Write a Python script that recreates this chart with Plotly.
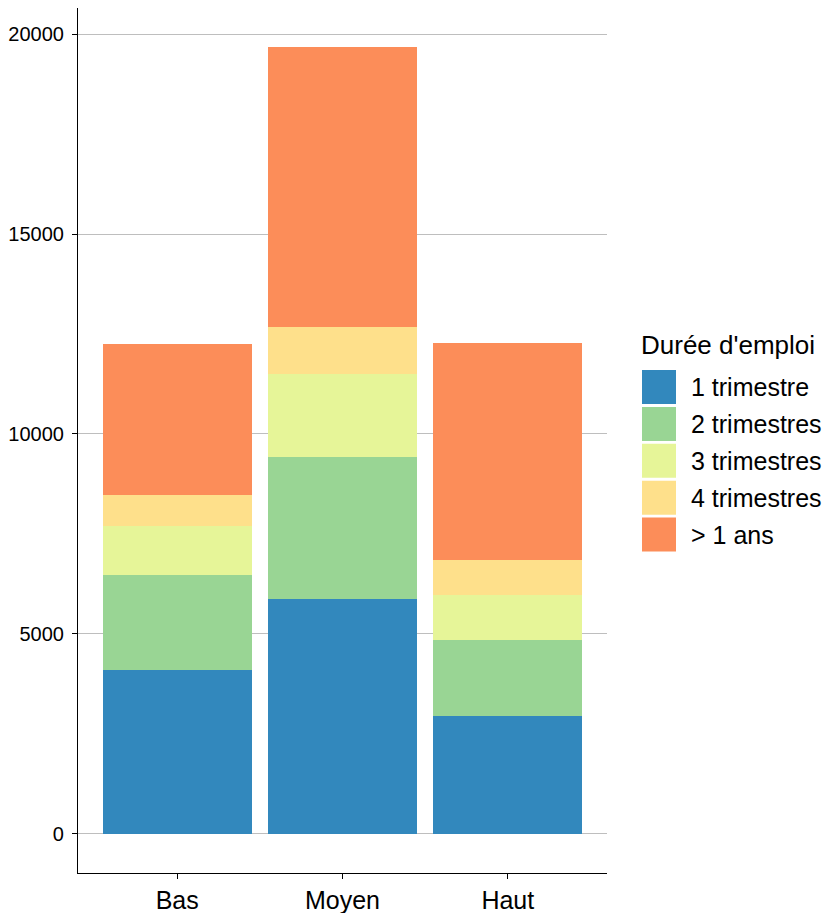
import plotly.graph_objects as go

categories = ["Bas", "Moyen", "Haut"]
series_names = ["1 trimestre", "2 trimestres", "3 trimestres", "4 trimestres", "> 1 ans"]
v_1trim = [4085, 5865, 2932]
v_2trim = [2381, 3559, 1905]
v_3trim = [1228, 2087, 1128]
v_4trim = [777, 1171, 877]
v_plus1 = [3785, 6992, 5439]
colors = ["#3288BD", "#99D594", "#E6F598", "#FEE08B", "#FC8D59"]
y_ticks = [0, 5000, 10000, 15000, 20000]
legend_title = "Durée d'emploi"

series_values = [v_1trim, v_2trim, v_3trim, v_4trim, v_plus1]

fig = go.Figure()
for name, vals, col in zip(series_names, series_values, colors):
    fig.add_trace(go.Bar(x=categories, y=vals, name=name, marker=dict(color=col, line=dict(width=0)),
                         width=0.9, showlegend=False))

total_max = max(sum(s[i] for s in series_values) for i in range(len(categories)))
pad = total_max * 0.05

W, H = 825, 913
# plot area in page pixels: x 78..607, y 8..873
L, T = 78, 8
R = W - 607
B = H - 873
pw = W - L - R
ph = H - T - B

def px2x(px):
    return (px - L) / pw

def py2y(py):
    return (H - B - py) / ph

FONT = "Liberation Sans, Arial, sans-serif"
shapes = []
annotations = []
annotations.append(dict(x=px2x(639), y=py2y(345), xref="paper", yref="paper", text=legend_title,
                        showarrow=False, xanchor="left", yanchor="middle",
                        font=dict(size=26, color="black", family=FONT)))
key_top = 370
pitch = 36.9
for i, (name, col) in enumerate(zip(series_names, colors)):
    top = key_top + i * pitch
    shapes.append(dict(type="rect", xref="paper", yref="paper",
                       x0=px2x(642), x1=px2x(676), y0=py2y(top + 34), y1=py2y(top),
                       fillcolor=col, line=dict(width=0), layer="above"))
    annotations.append(dict(x=px2x(689), y=py2y(top + 17), xref="paper", yref="paper", text=name,
                            showarrow=False, xanchor="left", yanchor="middle",
                            font=dict(size=25, color="black", family=FONT)))

fig.update_layout(
    width=W, height=H,
    margin=dict(l=L, r=R, t=T, b=B, pad=0, autoexpand=False),
    plot_bgcolor="white", paper_bgcolor="white",
    barmode="stack",
    shapes=shapes, annotations=annotations,
    font=dict(family=FONT, color="black"),
    xaxis=dict(range=[-0.6, 2.6], showline=True, linecolor="black", linewidth=1.2,
               ticks="outside", ticklen=5, tickcolor="black", tickwidth=1.2, automargin=False,
               tickfont=dict(size=25, color="black"), showgrid=False, zeroline=False),
    yaxis=dict(range=[-pad, total_max + pad], tickvals=y_ticks, ticktext=[str(t) for t in y_ticks],
               showline=True, linecolor="black", linewidth=1.2, automargin=False,
               ticks="outside", ticklen=5, tickcolor="black", tickwidth=1.2, ticklabelstandoff=4,
               tickfont=dict(size=20, color="black"), showgrid=True, gridcolor="#BEBEBE", gridwidth=1.3,
               zeroline=False),
)

fig.write_html("out.html", config={"displayModeBar": False},
               post_script="document.body.style.margin='0';document.body.style.overflow='hidden';")
